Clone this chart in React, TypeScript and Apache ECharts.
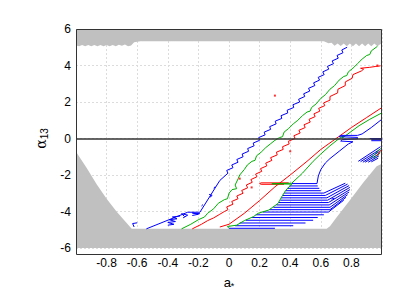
import React, { useEffect, useRef } from "react";
import * as echarts from "echarts";

// ---------- data ----------
const xTickMin = -1;
const xTickMax = 1;
const yTickMin = -6;
const yTickMax = 6;

// excluded (gray) regions: lower edge of top band, upper edge of bottom region
const topGrayEdge: number[][] = [
  [-1, 5.1], [-0.98, 5.05], [-0.96, 5.13], [-0.94, 5.05], [-0.92, 5.13], [-0.9, 5.05], [-0.88, 5.13],
  [-0.86, 5.05], [-0.84, 5.13], [-0.82, 5.05], [-0.8, 5.13], [-0.78, 5.06], [-0.76, 5.13], [-0.74, 5.06],
  [-0.72, 5.14], [-0.7, 5.08], [-0.68, 5.15], [-0.66, 5.05], [-0.64, 5.1], [-0.62, 5.27], [-0.58, 5.33],
  [0.62, 5.33], [0.65, 5.22], [0.67, 5.25], [0.69, 5.08], [0.71, 5.2], [0.73, 5.07], [0.75, 5.2],
  [0.77, 5.06], [0.79, 5.2], [0.81, 5.06], [0.83, 5.2], [0.85, 5.06], [0.87, 5.2], [0.89, 5.06],
  [0.91, 5.2], [0.93, 5.06], [0.95, 5.2], [0.97, 5.06], [0.99, 5.18], [1, 5.12],
];
const bottomGrayEdge: number[][] = [
  [-1, -0.72], [-0.93, -1.61], [-0.865, -2.5], [-0.8, -3.3], [-0.734, -4.01], [-0.669, -4.63],
  [-0.636, -4.95], [0.638, -4.95], [0.66, -4.81], [0.7, -4.36], [0.79, -3.39], [0.878, -2.41],
  [0.965, -1.52], [1, -1.38],
];

const blueMain: number[][] = [
  [-0.54, -4.95], [-0.27, -4.04], [-0.19, -4.04], [-0.06, -2.3],
  [-0.007, -1.9], [-0.015, -1.75], [0.026, -1.6], [0.018, -1.45], [0.059, -1.3], [0.051, -1.15],
  [0.092, -1.0], [0.086, -0.85], [0.128, -0.7], [0.122, -0.55], [0.164, -0.4], [0.158, -0.25],
  [0.2, -0.1], [0.194, 0.05], [0.236, 0.2], [0.23, 0.35], [0.272, 0.5], [0.266, 0.65], [0.308, 0.8],
  [0.302, 0.95], [0.345, 1.1], [0.34, 1.25], [0.384, 1.4], [0.38, 1.55], [0.423, 1.7], [0.418, 1.85],
  [0.462, 2.0], [0.455, 2.15], [0.495, 2.3], [0.488, 2.45], [0.528, 2.6], [0.52, 2.75], [0.561, 2.9],
  [0.553, 3.05], [0.592, 3.2], [0.583, 3.35], [0.622, 3.5], [0.613, 3.65], [0.652, 3.8], [0.643, 3.95],
  [0.683, 4.1], [0.674, 4.25], [0.714, 4.4], [0.706, 4.55], [0.745, 4.7], [0.737, 4.85], [0.772, 5.0],
];
const greenMain: number[][] = [
  [-0.31, -4.95], [-0.25, -4.7], [-0.2, -4.45], [-0.16, -4.3], [-0.14, -4.1], [-0.1, -3.85],
  [-0.07, -3.55], [-0.03, -3.35], [-0.01, -3.3], [0.0, -3.0], [0.02, -2.8], [0.05, -2.75],
  [0.04, -2.55], [0.06, -2.2], [0.07, -2.0], [0.1, -1.7], [0.12, -1.45], [0.15, -1.25], [0.17, -1.2],
  [0.18, -0.95], [0.21, -0.75], [0.24, -0.5], [0.27, -0.3], [0.3, -0.1], [0.33, 0.05], [0.35, 0.1],
  [0.36, 0.35], [0.39, 0.55], [0.42, 0.8], [0.45, 1.0], [0.48, 1.25], [0.51, 1.45], [0.53, 1.5],
  [0.54, 1.7], [0.57, 1.9], [0.6, 2.2], [0.63, 2.4], [0.66, 2.7], [0.69, 2.9], [0.72, 3.2],
  [0.75, 3.4], [0.77, 3.45], [0.78, 3.65], [0.81, 3.85], [0.84, 4.1], [0.87, 4.35], [0.9, 4.55],
  [0.92, 4.6], [0.93, 4.8], [0.97, 5.05],
];
const redMain: number[][] = [
  [-0.24, -4.95], [-0.18, -4.7], [-0.14, -4.5], [-0.1, -4.35], [-0.06, -4.15], [-0.03, -4.0],
  [-0.007, -3.9], [-0.015, -3.75], [0.026, -3.6], [0.018, -3.45], [0.059, -3.3], [0.051, -3.15],
  [0.092, -3.0], [0.083, -2.85], [0.122, -2.7], [0.113, -2.55], [0.152, -2.4], [0.143, -2.25],
  [0.182, -2.1], [0.174, -1.95], [0.214, -1.8], [0.206, -1.65], [0.247, -1.5], [0.24, -1.35],
  [0.28, -1.2], [0.272, -1.05], [0.315, -0.9], [0.31, -0.75], [0.354, -0.6], [0.35, -0.45],
  [0.393, -0.3], [0.388, -0.15], [0.432, 0.0], [0.424, 0.15], [0.465, 0.3], [0.457, 0.45],
  [0.498, 0.6], [0.49, 0.75], [0.531, 0.9], [0.523, 1.05], [0.563, 1.2], [0.555, 1.35], [0.594, 1.5],
  [0.586, 1.65], [0.626, 1.8], [0.618, 1.95], [0.66, 2.1], [0.66, 2.3], [0.71, 2.5], [0.712, 2.7],
  [0.76, 2.9], [0.76, 3.1], [0.805, 3.3], [0.81, 3.5], [0.865, 3.7], [0.88, 3.8], [0.86, 3.85],
  [0.92, 3.9], [0.96, 3.95], [0.99, 3.98],
];

const redLower: number[][] = [
  [-0.06, -4.85], [0.0, -4.7], [0.1, -4.1], [0.2, -3.4], [0.3, -2.65], [0.4, -2.0], [0.51, -1.25],
  [0.6, -0.6], [0.7, 0.0], [0.8, 0.6], [0.9, 1.15], [1.0, 1.7],
];
const redLoop: number[][] = [
  [0.39, -2.43], [0.21, -2.43], [0.2, -2.47], [0.21, -2.51], [0.36, -2.51],
];
const greenLower: number[][] = [
  [0.0, -4.93], [-0.01, -4.82], [0.05, -4.75], [0.1, -4.5], [0.16, -4.28], [0.19, -4.1], [0.26, -3.92],
  [0.32, -3.56], [0.344, -3.2], [0.37, -2.85], [0.41, -2.5], [0.28, -2.48], [0.41, -2.45],
  [0.48, -1.9], [0.55, -1.25], [0.6, -0.85], [0.66, -0.4], [0.72, 0.0], [0.75, 0.15], [0.74, 0.02],
  [0.85, 0.7], [0.92, 1.05], [1.0, 1.41],
];
const blueLower: number[][] = [
  [1.0, 1.06], [0.93, 0.6], [0.87, 0.25], [0.84, 0.17], [0.73, 0.17], [0.72, 0.1], [0.84, 0.06],
  [0.84, -0.02], [0.74, -0.06], [0.73, -0.14], [0.81, -0.18], [0.78, -0.3], [0.72, -0.7], [0.66, -1.1],
  [0.63, -1.34], [0.6, -1.7], [0.584, -2.05], [0.575, -2.47],
];

// blue comb (rows of narrow contour loops) at lower right
const hatchY = [-2.47, -2.6, -2.73, -2.86, -2.99, -3.12, -3.25, -3.38, -3.51, -3.64, -3.77, -3.9, -4.03, -4.18, -4.33, -4.48, -4.63, -4.78, -4.92];
const hatchLeft = [0.41, 0.395, 0.38, 0.37, 0.36, 0.35, 0.34, 0.335, 0.325, 0.31, 0.29, 0.265, 0.22, 0.175, 0.15, 0.11, 0.07, 0.04, 0.0];
const hatchRight = [0.575, 0.58, 0.59, 0.6, 0.62, 0.63, 0.64, 0.645, 0.65, 0.655, 0.66, 0.66, 0.65, 0.62, 0.58, 0.55, 0.5, 0.42, 0.3];
const hatchTailX: (number | null)[] = [null, null, null, null, 0.76, 0.775, 0.785, 0.79, 0.79, 0.785, 0.775, 0.765, 0.75, null, null, null, null, null, null];
const hatchTailY: (number | null)[] = [null, null, null, null, -2.45, -2.5, -2.58, -2.68, -2.8, -2.93, -3.08, -3.22, -3.38, null, null, null, null, null, null];

const blueBits: number[][][] = [
  [[-0.62, -4.85], [-0.63, -4.66], [-0.6, -4.62]],
  [[-0.4, -4.75], [-0.36, -4.7], [-0.4, -4.6], [-0.35, -4.55], [-0.39, -4.45], [-0.34, -4.4], [-0.37, -4.3], [-0.32, -4.25]],
  [[-0.3, -4.35], [-0.27, -4.2], [-0.31, -4.12], [-0.29, -4.28]],
  [[-0.24, -4.22], [-0.2, -4.15], [-0.24, -4.08], [-0.19, -4.12]],
  [[-0.18, -3.7], [-0.17, -3.62]],
  [[-0.125, -3.22], [-0.11, -3.12], [-0.13, -3.06]],
  [[-0.1, -2.72], [-0.09, -2.64]],
  [[0.92, 0.0], [1.0, 0.0], [1.0, -0.06], [0.93, -0.06]],
  [[0.93, -0.12], [1.0, -0.12]],
  [[0.845, -1.25], [0.99, -0.45]],
  [[0.86, -1.27], [0.99, -0.58]],
  [[0.875, -1.3], [0.985, -0.7]],
  [[0.89, -1.3], [0.985, -0.82]],
  [[0.91, -1.3], [0.98, -0.95]],
  [[0.93, -1.28], [0.975, -1.08]],
  [[0.67, -3.32], [0.69, -3.28]],
];
const greenBits: number[][][] = [
  [[0.93, -1.05], [0.99, -0.55]],
  [[0.945, -1.1], [0.99, -0.75]],
];
const redBits: number[][][] = [
  [[0.965, -0.95], [0.995, -0.62]],
];
const redDots: number[][] = [
  [0.07, -2.2], [0.148, -2.68], [0.4, -0.7], [0.3, 2.35], [0.97, 4.0],
];

// ---------- component ----------
export default function App() {
  const ref = useRef<HTMLDivElement>(null);
  useEffect(() => {
    if (!ref.current) return;
    const chart = echarts.init(ref.current, undefined, { renderer: "svg" });
    const BLUE = "#0000ff";
    const GREEN = "#00b000";
    const RED = "#ff0000";
    const GRAY = "#c0c0c0";
    const line = (data: number[][], color: string, z = 3) => ({
      type: "line",
      data,
      symbol: "none",
      showSymbol: false,
      silent: true,
      z,
      lineStyle: { color, width: 1 },
    });
    const grayPolygon = (edge: number[][], yLimit: number) => ({
      type: "custom",
      silent: true,
      z: 1,
      clip: true,
      data: [0],
      renderItem: (_params: any, api: any) => {
        const pts = edge.map((p) => api.coord(p));
        pts.push(api.coord([xTickMax, yLimit]));
        pts.push(api.coord([xTickMin, yLimit]));
        return {
          type: "polygon",
          shape: { points: pts },
          style: { fill: GRAY, stroke: "none" },
        };
      },
    });
    const series: any[] = [
      grayPolygon(topGrayEdge, yTickMax),
      grayPolygon(bottomGrayEdge, yTickMin),
      line(blueMain, BLUE),
      line(greenMain, GREEN),
      line(redMain, RED),
      {
        ...line(redLower, RED),
        markLine: {
          silent: true,
          symbol: "none",
          label: { show: false },
          lineStyle: { color: "#333", width: 1.5, type: "solid" },
          data: [{ yAxis: 0 }],
        },
      },
      line(redLoop, RED),
      line(greenLower, GREEN),
      line(blueLower, BLUE),
    ];
    hatchY.forEach((y, i) => {
      const seg: number[][] = [[hatchLeft[i], y], [hatchRight[i], y]];
      const tx = hatchTailX[i];
      const ty = hatchTailY[i];
      if (tx != null && ty != null) seg.push([tx, ty]);
      series.push(line(seg, BLUE, 2));
    });
    blueBits.forEach((s) => series.push(line(s, BLUE)));
    greenBits.forEach((s) => series.push(line(s, GREEN, 4)));
    redBits.forEach((s) => series.push(line(s, RED, 4)));
    series.push({
      type: "scatter",
      data: redDots,
      symbol: "rect",
      symbolSize: 2,
      silent: true,
      itemStyle: { color: RED },
      z: 4,
    });

    const labelFont = "Liberation Sans, Arial, sans-serif";
    chart.setOption({
      animation: false,
      grid: { left: 76, top: 29, width: 306, height: 225, show: false },
      xAxis: {
        type: "value",
        min: xTickMin,
        max: xTickMax,
        interval: 0.2,
        axisLine: { show: false },
        axisTick: { show: false },
        splitLine: { show: true, lineStyle: { color: "#dcdcdc", type: [2, 2], width: 1 } },
        axisLabel: {
          color: "#000",
          fontSize: 12,
          fontFamily: labelFont,
          margin: 9,
          formatter: (v: number) => (Math.abs(v) > 0.999 ? "" : String(Math.round(v * 10) / 10)),
        },
        name: "{a|a}{s|*}",
        nameLocation: "middle",
        nameGap: 26,
        nameTextStyle: {
          rich: {
            a: { fontSize: 13, fontFamily: labelFont, color: "#000", lineHeight: 16 },
            s: { fontSize: 9, fontFamily: labelFont, color: "#000", verticalAlign: "bottom", lineHeight: 10, padding: [4, 0, 0, 0] },
          },
        },
      },
      yAxis: {
        type: "value",
        min: yTickMin,
        max: yTickMax,
        interval: 2,
        axisLine: { show: false },
        axisTick: { show: false },
        splitLine: { show: true, lineStyle: { color: "#dcdcdc", type: [2, 2], width: 1 } },
        axisLabel: { color: "#000", fontSize: 12, fontFamily: labelFont, margin: 5 },
        name: "{a|α}{s|13}",
        nameLocation: "middle",
        nameRotate: 90,
        nameGap: 26,
        nameTextStyle: {
          rich: {
            a: { fontSize: 14, fontFamily: "DejaVu Serif, serif", color: "#000", lineHeight: 16 },
            s: { fontSize: 10, fontFamily: labelFont, color: "#000", verticalAlign: "bottom", lineHeight: 10, padding: [5, 0, 0, 0] },
          },
        },
      },
      graphic: [
        {
          type: "rect",
          z: 100,
          silent: true,
          shape: { x: 76.5, y: 29.5, width: 305, height: 225 },
          style: { fill: "none", stroke: "#333", lineWidth: 1 },
        },
      ],
      series,
    });
    return () => chart.dispose();
  }, []);
  return (
    <div
      ref={ref}
      style={{ position: "absolute", left: 0, top: 0, width: 418, height: 295, background: "#fff" }}
    />
  );
}
